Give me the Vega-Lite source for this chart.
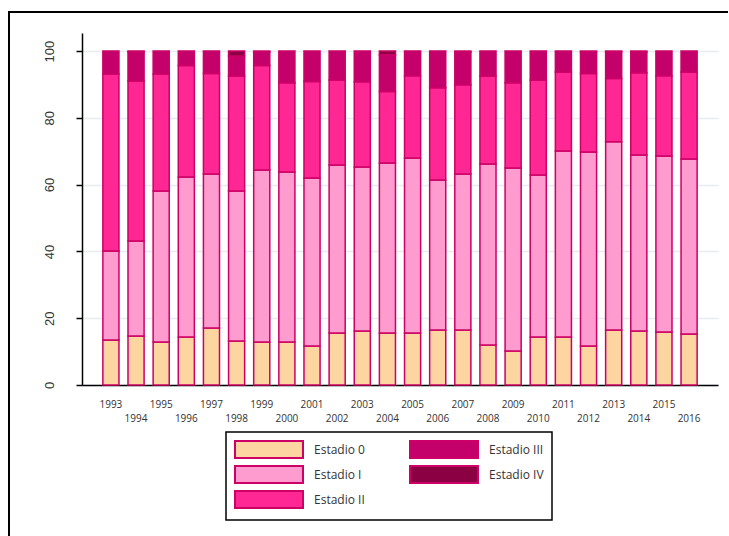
{
  "$schema": "https://vega.github.io/schema/vega-lite/v6.json",
  "width": 720,
  "height": 524,
  "autosize": {"type": "none"},
  "padding": {"left": 9, "top": 12, "right": 0, "bottom": 0},
  "background": "white",
  "config": {"legend": {"strokeWidth": 1.5}},
  "view": {"stroke": "black", "strokeWidth": 2, "strokeDash": [1243, 1245], "strokeDashOffset": 524, "fill": null},
  "data": {"values": [
    {"year": "1993", "stage": "Estadio 0", "value": 13.5}, {"year": "1993", "stage": "Estadio I", "value": 26.6}, {"year": "1993", "stage": "Estadio II", "value": 53.0}, {"year": "1993", "stage": "Estadio III", "value": 6.9},
    {"year": "1994", "stage": "Estadio 0", "value": 14.7}, {"year": "1994", "stage": "Estadio I", "value": 28.4}, {"year": "1994", "stage": "Estadio II", "value": 47.9}, {"year": "1994", "stage": "Estadio III", "value": 8.7}, {"year": "1994", "stage": "Estadio IV", "value": 0.3},
    {"year": "1995", "stage": "Estadio 0", "value": 12.9}, {"year": "1995", "stage": "Estadio I", "value": 45.2}, {"year": "1995", "stage": "Estadio II", "value": 35.0}, {"year": "1995", "stage": "Estadio III", "value": 6.9},
    {"year": "1996", "stage": "Estadio 0", "value": 14.4}, {"year": "1996", "stage": "Estadio I", "value": 47.9}, {"year": "1996", "stage": "Estadio II", "value": 33.4}, {"year": "1996", "stage": "Estadio III", "value": 4.3},
    {"year": "1997", "stage": "Estadio 0", "value": 17.1}, {"year": "1997", "stage": "Estadio I", "value": 46.1}, {"year": "1997", "stage": "Estadio II", "value": 30.1}, {"year": "1997", "stage": "Estadio III", "value": 6.7},
    {"year": "1998", "stage": "Estadio 0", "value": 13.2}, {"year": "1998", "stage": "Estadio I", "value": 44.9}, {"year": "1998", "stage": "Estadio II", "value": 34.4}, {"year": "1998", "stage": "Estadio III", "value": 6.0}, {"year": "1998", "stage": "Estadio IV", "value": 1.5},
    {"year": "1999", "stage": "Estadio 0", "value": 12.9}, {"year": "1999", "stage": "Estadio I", "value": 51.5}, {"year": "1999", "stage": "Estadio II", "value": 31.3}, {"year": "1999", "stage": "Estadio III", "value": 4.0}, {"year": "1999", "stage": "Estadio IV", "value": 0.3},
    {"year": "2000", "stage": "Estadio 0", "value": 12.9}, {"year": "2000", "stage": "Estadio I", "value": 50.9}, {"year": "2000", "stage": "Estadio II", "value": 26.7}, {"year": "2000", "stage": "Estadio III", "value": 9.5},
    {"year": "2001", "stage": "Estadio 0", "value": 11.7}, {"year": "2001", "stage": "Estadio I", "value": 50.3}, {"year": "2001", "stage": "Estadio II", "value": 28.9}, {"year": "2001", "stage": "Estadio III", "value": 9.1},
    {"year": "2002", "stage": "Estadio 0", "value": 15.6}, {"year": "2002", "stage": "Estadio I", "value": 50.3}, {"year": "2002", "stage": "Estadio II", "value": 25.4}, {"year": "2002", "stage": "Estadio III", "value": 8.7},
    {"year": "2003", "stage": "Estadio 0", "value": 16.2}, {"year": "2003", "stage": "Estadio I", "value": 49.1}, {"year": "2003", "stage": "Estadio II", "value": 25.5}, {"year": "2003", "stage": "Estadio III", "value": 9.2},
    {"year": "2004", "stage": "Estadio 0", "value": 15.6}, {"year": "2004", "stage": "Estadio I", "value": 50.9}, {"year": "2004", "stage": "Estadio II", "value": 21.4}, {"year": "2004", "stage": "Estadio III", "value": 11.0}, {"year": "2004", "stage": "Estadio IV", "value": 1.1},
    {"year": "2005", "stage": "Estadio 0", "value": 15.6}, {"year": "2005", "stage": "Estadio I", "value": 52.4}, {"year": "2005", "stage": "Estadio II", "value": 24.6}, {"year": "2005", "stage": "Estadio III", "value": 7.4},
    {"year": "2006", "stage": "Estadio 0", "value": 16.5}, {"year": "2006", "stage": "Estadio I", "value": 44.9}, {"year": "2006", "stage": "Estadio II", "value": 27.6}, {"year": "2006", "stage": "Estadio III", "value": 11.0},
    {"year": "2007", "stage": "Estadio 0", "value": 16.5}, {"year": "2007", "stage": "Estadio I", "value": 46.7}, {"year": "2007", "stage": "Estadio II", "value": 26.7}, {"year": "2007", "stage": "Estadio III", "value": 9.8}, {"year": "2007", "stage": "Estadio IV", "value": 0.3},
    {"year": "2008", "stage": "Estadio 0", "value": 12.0}, {"year": "2008", "stage": "Estadio I", "value": 54.2}, {"year": "2008", "stage": "Estadio II", "value": 26.3}, {"year": "2008", "stage": "Estadio III", "value": 7.5},
    {"year": "2009", "stage": "Estadio 0", "value": 10.2}, {"year": "2009", "stage": "Estadio I", "value": 54.8}, {"year": "2009", "stage": "Estadio II", "value": 25.5}, {"year": "2009", "stage": "Estadio III", "value": 9.5},
    {"year": "2010", "stage": "Estadio 0", "value": 14.4}, {"year": "2010", "stage": "Estadio I", "value": 48.5}, {"year": "2010", "stage": "Estadio II", "value": 28.4}, {"year": "2010", "stage": "Estadio III", "value": 8.7},
    {"year": "2011", "stage": "Estadio 0", "value": 14.4}, {"year": "2011", "stage": "Estadio I", "value": 55.7}, {"year": "2011", "stage": "Estadio II", "value": 23.6}, {"year": "2011", "stage": "Estadio III", "value": 6.3},
    {"year": "2012", "stage": "Estadio 0", "value": 11.7}, {"year": "2012", "stage": "Estadio I", "value": 58.1}, {"year": "2012", "stage": "Estadio II", "value": 23.5}, {"year": "2012", "stage": "Estadio III", "value": 6.4}, {"year": "2012", "stage": "Estadio IV", "value": 0.3},
    {"year": "2013", "stage": "Estadio 0", "value": 16.5}, {"year": "2013", "stage": "Estadio I", "value": 56.3}, {"year": "2013", "stage": "Estadio II", "value": 19.0}, {"year": "2013", "stage": "Estadio III", "value": 8.0}, {"year": "2013", "stage": "Estadio IV", "value": 0.2},
    {"year": "2014", "stage": "Estadio 0", "value": 16.2}, {"year": "2014", "stage": "Estadio I", "value": 52.7}, {"year": "2014", "stage": "Estadio II", "value": 24.6}, {"year": "2014", "stage": "Estadio III", "value": 6.2}, {"year": "2014", "stage": "Estadio IV", "value": 0.3},
    {"year": "2015", "stage": "Estadio 0", "value": 15.9}, {"year": "2015", "stage": "Estadio I", "value": 52.7}, {"year": "2015", "stage": "Estadio II", "value": 24.0}, {"year": "2015", "stage": "Estadio III", "value": 7.4},
    {"year": "2016", "stage": "Estadio 0", "value": 15.3}, {"year": "2016", "stage": "Estadio I", "value": 52.4}, {"year": "2016", "stage": "Estadio II", "value": 26.0}, {"year": "2016", "stage": "Estadio III", "value": 6.3}
  ]},
  "mark": {"type": "bar", "stroke": "#cc0066", "strokeWidth": 1.5},
  "encoding": {
    "x": {
      "field": "year", "type": "ordinal",
      "scale": {"range": [73, 709], "paddingInner": 0.36, "paddingOuter": 0.83},
      "axis": {
        "title": null, "orient": "bottom", "offset": -151, "labelAngle": 0, "ticks": false,
        "domainColor": "black", "domainWidth": 1.5, "grid": false, "labelOverlap": false,
        "labelFont": "Open Sans", "labelFontSize": 10, "labelColor": "#333333",
        "labelPadding": {"condition": {"test": "toNumber(datum.value) % 2 === 0", "value": 28}, "value": 14}
      }
    },
    "y": {
      "field": "value", "type": "quantitative", "stack": "zero",
      "scale": {"domain": [0, 105.4], "range": [373, 21], "nice": false},
      "axis": {
        "title": null, "orient": "left", "offset": -73, "values": [0, 20, 40, 60, 80, 100],
        "grid": true, "gridColor": "#e6ecf0", "gridWidth": 1.5,
        "domainColor": "black", "domainWidth": 1.5, "tickColor": "black", "tickWidth": 1.5, "tickSize": 6,
        "labelAngle": -90, "labelAlign": "center", "labelBaseline": "alphabetic", "labelPadding": 23,
        "labelFont": "Liberation Sans", "labelFontSize": 13, "labelColor": "#333333"
      }
    },
    "color": {
      "field": "stage", "type": "nominal",
      "scale": {
        "domain": ["Estadio 0", "Estadio I", "Estadio II", "Estadio III", "Estadio IV"],
        "range": ["#fdd5a1", "#ff9ccf", "#ff2794", "#c4006a", "#8a0042"]
      },
      "legend": {
        "title": null, "orient": "none", "legendX": 217, "legendY": 420,
        "direction": "vertical", "columns": 2, "columnPadding": 41, "rowPadding": 0, "padding": 8,
        "strokeColor": "black", "fillColor": "white",
        "symbolType": "M-1,-1H7V1H-1Z", "symbolSize": 289,
        "symbolStrokeColor": "#cc0066", "symbolStrokeWidth": 2, "symbolOpacity": 1,
        "labelFont": "Open Sans", "labelFontSize": 12, "labelColor": "#333333", "labelOffset": 61, "labelLimit": 200
      }
    },
    "order": {"field": "stage", "type": "nominal", "sort": "ascending"}
  }
}
